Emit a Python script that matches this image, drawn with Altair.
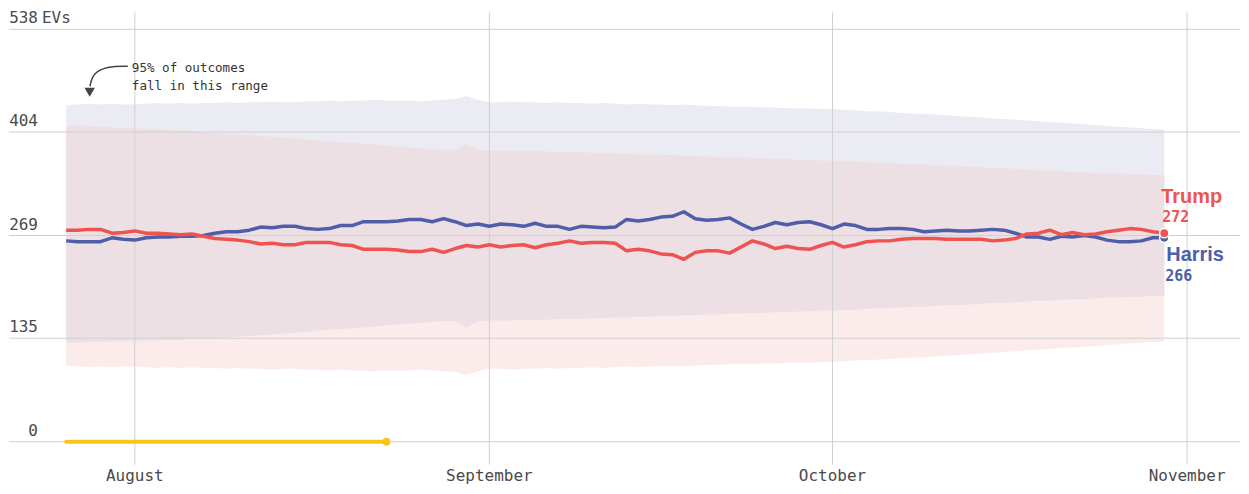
import altair as alt
import pandas as pd

# ---------------- data ----------------
dates = [d.strftime("%Y-%m-%dT00:00:00") for d in pd.date_range("2024-07-26", "2024-10-30", freq="D")]

trump = [276, 276, 277, 277, 272, 273, 275, 272, 272, 271,
         270, 271, 268, 265, 264, 263, 261, 258, 259, 257,
         257, 260, 260, 260, 257, 256, 251, 251, 251, 250,
         248, 248, 251, 247, 252, 256, 254, 257, 254, 256,
         257, 253, 257, 259, 262, 259, 260, 260, 259, 249,
         251, 249, 245, 244, 238, 247, 249, 249, 246, 254,
         262, 258, 252, 255, 252, 251, 256, 260, 254, 257,
         261, 262, 262, 264, 265, 265, 265, 264, 264, 264,
         264, 262, 263, 265, 271, 272, 276, 270, 273, 270,
         271, 274, 276, 278, 277, 274, 272]

harris = [262, 261, 261, 261, 266, 264, 263, 266, 267, 267,
          268, 268, 269, 272, 274, 274, 276, 280, 279, 281,
          281, 278, 277, 278, 282, 282, 287, 287, 287, 288,
          290, 290, 287, 291, 287, 282, 284, 281, 284, 283,
          281, 285, 281, 281, 277, 281, 280, 279, 280, 290,
          288, 290, 293, 294, 300, 291, 289, 290, 292, 284,
          277, 281, 286, 283, 286, 287, 283, 278, 284, 282,
          277, 277, 278, 278, 277, 274, 275, 276, 275, 275,
          276, 277, 276, 272, 267, 267, 264, 268, 267, 269,
          267, 263, 261, 261, 262, 266, 266]

harris_hi = [439, 440, 441, 440, 441, 440, 440, 441, 442, 441,
             442, 441, 442, 442, 443, 442, 443, 443, 444, 443,
             443, 444, 444, 445, 444, 445, 445, 446, 445, 445,
             445, 444, 445, 446, 447, 451, 446, 443, 443, 444,
             443, 443, 442, 443, 442, 442, 441, 442, 441, 440,
             441, 440, 440, 439, 440, 439, 438, 438, 437, 437,
             437, 436, 436, 435, 435, 435, 434, 434, 433, 432,
             431, 431, 430, 429, 428, 428, 427, 426, 425, 424,
             423, 422, 421, 420, 419, 418, 417, 416, 415, 414,
             413, 412, 411, 410, 409, 408, 407]

harris_lo = [130, 129, 130, 130, 131, 131, 131, 132, 132, 133,
             133, 134, 135, 136, 136, 137, 138, 139, 140, 141,
             142, 143, 145, 146, 147, 148, 149, 150, 152, 153,
             154, 155, 156, 157, 157, 149, 157, 158, 158, 158,
             159, 159, 159, 160, 160, 160, 161, 161, 162, 162,
             163, 163, 164, 164, 165, 165, 166, 166, 167, 167,
             168, 168, 169, 169, 170, 170, 171, 171, 172, 172,
             173, 174, 174, 175, 176, 176, 177, 178, 178, 179,
             180, 181, 181, 182, 183, 184, 184, 185, 186, 186,
             187, 188, 188, 189, 189, 190, 190]

trump_hi = [412, 413, 412, 411, 410, 410, 409, 408, 408, 407,
            406, 405, 404, 403, 402, 401, 400, 399, 398, 397,
            396, 394, 393, 392, 391, 390, 389, 388, 386, 385,
            384, 383, 382, 381, 381, 389, 381, 380, 380, 380,
            379, 379, 379, 378, 378, 378, 377, 377, 376, 376,
            375, 375, 374, 374, 373, 373, 372, 372, 371, 371,
            370, 370, 369, 369, 368, 368, 367, 367, 366, 366,
            365, 364, 364, 363, 362, 362, 361, 360, 360, 359,
            358, 357, 357, 356, 355, 354, 354, 353, 352, 352,
            351, 350, 350, 349, 349, 348, 348]

trump_lo = [99, 98, 97, 98, 97, 98, 98, 97, 96, 97,
            96, 97, 96, 96, 95, 96, 95, 95, 94, 95,
            95, 94, 94, 93, 94, 93, 93, 92, 93, 93,
            93, 94, 93, 92, 91, 87, 92, 95, 95, 94,
            95, 95, 96, 95, 96, 96, 97, 96, 97, 98,
            97, 98, 98, 99, 98, 99, 100, 100, 101, 101,
            101, 102, 102, 103, 103, 103, 104, 104, 105, 106,
            107, 107, 108, 109, 110, 110, 111, 112, 113, 114,
            115, 116, 117, 118, 119, 120, 121, 122, 123, 124,
            125, 126, 127, 128, 129, 130, 131]

tick_values = [0, 135, 269, 404, 538]
tick_labels = ["0", "135", "269", "404", "538"]
month_dates = ["2024-08-01T00:00:00", "2024-09-01T00:00:00", "2024-10-01T00:00:00", "2024-11-01T00:00:00"]
month_labels = ["August", "September", "October", "November"]

yellow_dates = ["2024-07-26T00:00:00", "2024-08-23T00:00:00"]
yellow_values = [0, 0]

note_lines = ["95% of outcomes", "fall in this range"]
arrow_dates = ["2024-07-28T01:45:00", "2024-07-28T08:00:00", "2024-07-29T13:20:00", "2024-07-31T09:20:00"]
arrow_values = [463.7, 480.7, 489.8, 489.8]

# ---------------- styles ----------------
TRUMP = "#ef5350"
HARRIS = "#4e5ea8"
YELLOW = "#f5c518"
GRID = "#d0d0d0"
MONO = "DejaVu Sans Mono"
SANS = "Liberation Sans"
LABEL = "#4a4a4a"

df = pd.DataFrame({
    "date": dates, "trump": trump, "harris": harris,
    "harris_lo": harris_lo, "harris_hi": harris_hi,
    "trump_lo": trump_lo, "trump_hi": trump_hi,
})
last = df.iloc[[-1]].copy()
last["trump_txt"] = last["trump"].astype(str)
last["harris_txt"] = last["harris"].astype(str)

ticks_df = pd.DataFrame({"value": tick_values, "label": tick_labels})
months_df = pd.DataFrame({"date": month_dates, "label": month_labels})
yellow_df = pd.DataFrame({"date": yellow_dates, "value": yellow_values})
arrow_df = pd.DataFrame({"date": arrow_dates, "value": arrow_values})

xs = alt.Scale(domain=[alt.DateTime(year=2024, month=7, date=21),
                       alt.DateTime(year=2024, month=11, date=5, hours=15)])
ys = alt.Scale(domain=[-57.31, 565.33], nice=False, zero=False)


def X(field):
    return alt.X(field, type="temporal", scale=xs, axis=None)


def Y(field):
    return alt.Y(field, type="quantitative", scale=ys, axis=None)


def XD(**kw):
    return alt.XDatum(alt.DateTime(year=2024, **kw), type="temporal", scale=xs, axis=None)


def YD(v):
    return alt.YDatum(v, type="quantitative", scale=ys, axis=None)


base = alt.Chart(df)
h_band = base.mark_area(color="#ebebf4").encode(x=X("date"), y=Y("harris_lo"), y2=alt.Y2("harris_hi"))
t_band = base.mark_area(color="#fcebeb").encode(x=X("date"), y=Y("trump_lo"), y2=alt.Y2("trump_hi"))
overlap = base.mark_area(color="#ede0e5").encode(x=X("date"), y=Y("harris_lo"), y2=alt.Y2("trump_hi"))

hgrid = alt.Chart(ticks_df).mark_rule(color=GRID, strokeWidth=1).encode(y=Y("value"))
vgrid = alt.Chart(months_df).mark_rule(color=GRID, strokeWidth=1).encode(
    x=X("date"), y=YD(560), y2=alt.Y2Datum(-30))

yellow_line = alt.Chart(yellow_df).mark_line(color=YELLOW, strokeWidth=4, strokeCap="round").encode(
    x=X("date"), y=Y("value"))
yellow_dot = alt.Chart(yellow_df.iloc[[-1]]).mark_circle(color=YELLOW, size=60, opacity=1).encode(
    x=X("date"), y=Y("value"))

h_line = base.mark_line(color=HARRIS, strokeWidth=3.5, strokeJoin="round").encode(x=X("date"), y=Y("harris"))
t_line = base.mark_line(color=TRUMP, strokeWidth=3.5, strokeJoin="round").encode(x=X("date"), y=Y("trump"))

lb = alt.Chart(last)
h_dot = lb.mark_circle(color=HARRIS, size=85, opacity=1, stroke="white", strokeWidth=1.5).encode(
    x=X("date"), y=Y("harris"))
t_dot = lb.mark_circle(color=TRUMP, size=85, opacity=1, stroke="white", strokeWidth=1.5).encode(
    x=X("date"), y=Y("trump"))

t_name = lb.mark_text(text="Trump", align="left", baseline="alphabetic", dx=-3, dy=-30,
                      font=SANS, fontWeight="bold", fontSize=20, color=TRUMP).encode(x=X("date"), y=Y("trump"))
t_val = lb.mark_text(align="left", baseline="alphabetic", dx=-2, dy=-11,
                     font=MONO, fontWeight="bold", fontSize=15, color=TRUMP).encode(
    x=X("date"), y=Y("trump"), text="trump_txt:N")
h_name = lb.mark_text(text="Harris", align="left", baseline="alphabetic", dx=2, dy=23,
                      font=SANS, fontWeight="bold", fontSize=20, color=HARRIS).encode(x=X("date"), y=Y("harris"))
h_val = lb.mark_text(align="left", baseline="alphabetic", dx=1, dy=43,
                     font=MONO, fontWeight="bold", fontSize=15, color=HARRIS).encode(
    x=X("date"), y=Y("harris"), text="harris_txt:N")

y_labels = alt.Chart(ticks_df).mark_text(align="right", baseline="alphabetic", dy=-6,
                                         font=MONO, fontSize=16, color=LABEL).encode(
    x=XD(month=7, date=23, hours=12, minutes=50), y=Y("value"), text="label:N")
evs = alt.Chart(ticks_df.iloc[[-1]]).mark_text(text="EVs", align="left", baseline="alphabetic", dy=-6,
                                               font=MONO, fontSize=16, color=LABEL).encode(
    x=XD(month=7, date=23, hours=21, minutes=10), y=Y("value"))

x_labels = alt.Chart(months_df).mark_text(align="center", baseline="middle",
                                          font=MONO, fontSize=16, color=LABEL).encode(
    x=X("date"), y=YD(-44.9), text="label:N")

note1 = alt.Chart(ticks_df.iloc[[0]]).mark_text(text=note_lines[0], align="left", baseline="middle",
                                                font=MONO, fontSize=12.6, color="#333333").encode(
    x=XD(month=7, date=31, hours=17, minutes=43), y=YD(487.2))
note2 = alt.Chart(ticks_df.iloc[[0]]).mark_text(text=note_lines[1], align="left", baseline="middle",
                                                font=MONO, fontSize=12.6, color="#333333").encode(
    x=XD(month=7, date=31, hours=17, minutes=43), y=YD(463.7))
arrow = alt.Chart(arrow_df).mark_line(interpolate="basis", color="#444444", strokeWidth=1.5).encode(
    x=X("date"), y=Y("value"))
arrow_head = alt.Chart(ticks_df.iloc[[0]]).mark_point(shape="triangle-down", filled=True, size=110,
                                                      color="#444444", opacity=1).encode(
    x=XD(month=7, date=28, hours=1, minutes=20), y=YD(455.9))

chart = alt.layer(
    h_band, t_band, overlap, hgrid, vgrid,
    yellow_line, yellow_dot,
    h_line, t_line, h_dot, t_dot,
    t_name, t_val, h_name, h_val,
    y_labels, evs, x_labels,
    note1, note2, arrow, arrow_head,
).properties(width=1233, height=478, padding=0).configure_view(stroke=None)

chart.save("out.html", embed_options={"renderer": "svg", "actions": False})
